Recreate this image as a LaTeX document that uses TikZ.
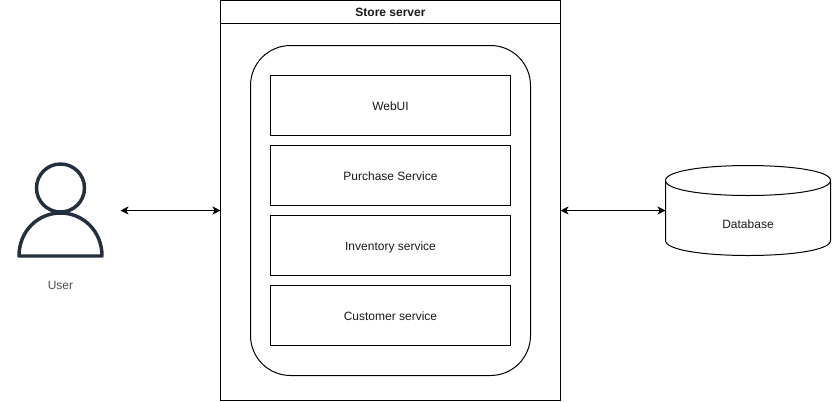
\documentclass[tikz,border=0pt]{standalone}
\usepackage{fontspec}
\setmainfont{Liberation Sans}
\usetikzlibrary{arrows.meta}
\definecolor{usercol}{HTML}{232F3E}
\definecolor{labelcol}{HTML}{1A1A1A}
\definecolor{usertext}{HTML}{505050}
\newcommand{\lowered}[1]{\raisebox{-0.75pt}[\height][\depth]{#1}}
\tikzset{
  px/.style={x=0.75pt,y=-0.75pt},
  boxstyle/.style={draw=black,line width=0.75pt,rectangle,inner sep=0pt,outer sep=0pt,font=\fontsize{9}{11}\selectfont,text=labelcol},
  service/.style={boxstyle,minimum width=180pt,minimum height=45pt,text height=6.5pt,text depth=0pt},
  link/.style={line width=0.75pt,draw=black,{Stealth[length=6pt,width=6pt,inset=1.6pt]}-{Stealth[length=6pt,width=6pt,inset=1.6pt]},shorten <=0pt,shorten >=0pt},
  plainlabel/.style={inner sep=0pt,font=\fontsize{9}{11}\selectfont,text=labelcol},
  usershape/.style={draw=usercol,line width=2.6pt,line join=round}
}
\begin{document}
\begin{tikzpicture}[px]
\useasboundingbox (0,0) rectangle (832,401);
\fill[white] (0,0) rectangle (832,401);
% Store server
\node[boxstyle,minimum width=255pt,minimum height=300pt] (server) at (390.5,200.5) {};
\draw[line width=0.75pt] (220.5,23.5) -- (560.5,23.5);
\node[plainlabel,font=\fontsize{9}{11}\selectfont\bfseries] (title) at (390.5,12.5) {Store server};
% Inner container
\node[boxstyle,rounded corners=30pt,minimum width=210pt,minimum height=247.5pt] (container) at (390.5,210.5) {};
% Services
\node[service] (webui) at (390.5,105.5) {\lowered{WebUI}};
\node[service] (purchase) at (390.5,175.5) {\lowered{Purchase Service}};
\node[service] (inventory) at (390.5,245.5) {\lowered{Inventory service}};
\node[service] (customer) at (390.5,315.5) {\lowered{Customer service}};
% User
\node[draw=usercol,line width=2.6pt,circle,minimum size=36pt,inner sep=0pt,outer sep=0pt] (head) at (60.5,188) {};
\draw[usershape] (19,256) .. controls (19,231) and (38,213) .. (60.5,213) .. controls (83,213) and (102,231) .. (102,256) -- cycle;
\node[plainlabel,text=usertext] (user) at (60.5,285.5) {User};
% Database
\coordinate (dbNW) at (665.5,180.5);
\coordinate (dbNE) at (830.5,180.5);
\coordinate (dbSE) at (830.5,240.5);
\coordinate (dbSW) at (665.5,240.5);
\draw[line width=0.75pt,fill=white] (dbNW) .. controls (665.5,160.5) and (830.5,160.5) .. (dbNE) -- (dbSE) .. controls (830.5,260.5) and (665.5,260.5) .. (dbSW) -- cycle;
\draw[line width=0.75pt] (dbNW) .. controls (665.5,200.5) and (830.5,200.5) .. (dbNE);
\node[plainlabel] (db) at (748,224) {Database};
% Connectors
\coordinate (userport) at (120.5,210.5);
\coordinate (dbport) at (665.5,210.5);
\draw[link] (userport) -- (server.west |- userport);
\draw[link] (server.east |- dbport) -- (dbport);
\end{tikzpicture}
\end{document}
